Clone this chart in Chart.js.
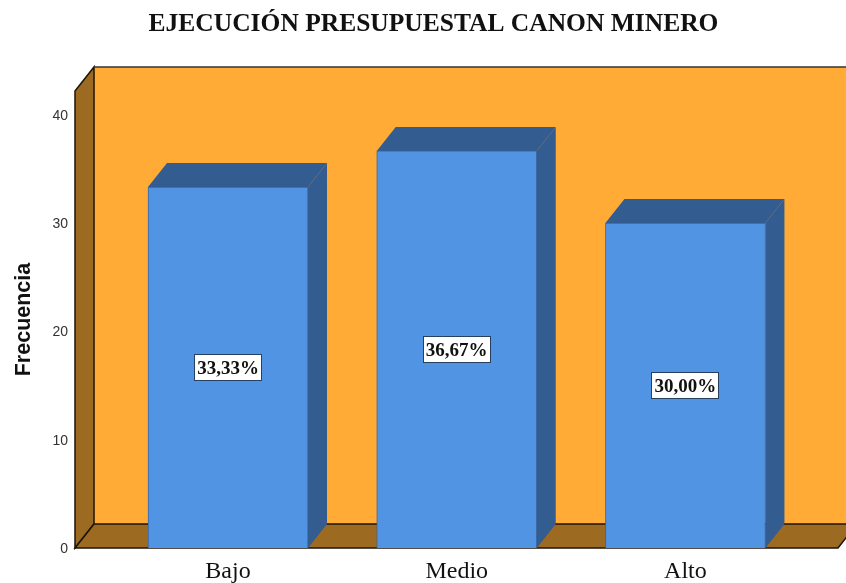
<!DOCTYPE html>
<html><head><meta charset="utf-8">
<style>html,body{margin:0;padding:0;background:#fff}#w{width:846px;height:583px}</style>
<script src="https://cdn.jsdelivr.net/npm/chart.js@4"></script></head>
<body><div id="w"><canvas id="c" width="846" height="583"></canvas></div>
<script>
const categories = ["Bajo", "Medio", "Alto"];
const percentValues = [33.33, 36.67, 30.00];
const percentLabels = ["33,33%", "36,67%", "30,00%"];
const yTicks = [0, 10, 20, 30, 40];
const DX = 19, DY = 24;

const poly = (ctx, pts, fill, stroke, lw) => {
  ctx.beginPath();
  pts.forEach((p, i) => i ? ctx.lineTo(p[0], p[1]) : ctx.moveTo(p[0], p[1]));
  ctx.closePath();
  if (fill) { ctx.fillStyle = fill; ctx.fill(); }
  if (stroke) { ctx.strokeStyle = stroke; ctx.lineWidth = lw || 1; ctx.stroke(); }
};

const box3d = {
  id: 'box3d',
  beforeDatasetsDraw(chart) {
    const { ctx, chartArea: a } = chart;
    ctx.save();
    const L = a.left, R = a.right, T = a.top, B = a.bottom, K = '#1c1408';
    poly(ctx, [[L + DX, T - DY], [R + DX, T - DY], [R + DX, B - DY], [L + DX, B - DY]], '#FFAB36', null);
    poly(ctx, [[L, T], [L + DX, T - DY], [L + DX, B - DY], [L, B]], '#9C6A20', K, 1.5);
    poly(ctx, [[L, B], [L + DX, B - DY], [R + DX, B - DY], [R, B]], '#9C6A20', K, 1.5);
    ctx.strokeStyle = '#333'; ctx.lineWidth = 1.5;
    ctx.beginPath(); ctx.moveTo(L + DX, T - DY); ctx.lineTo(R + DX, T - DY); ctx.stroke();
    const meta = chart.getDatasetMeta(0);
    meta.data.forEach(b => {
      const l = b.x - b.width / 2, r = b.x + b.width / 2;
      poly(ctx, [[r, b.y], [r + DX, b.y - DY], [r + DX, b.base - DY], [r, b.base]], '#335C91', null);
      poly(ctx, [[l, b.y], [l + DX, b.y - DY], [r + DX, b.y - DY], [r, b.y]], '#335C91', null);
    });
    ctx.restore();
  },
  afterDatasetsDraw(chart) {
    const { ctx } = chart;
    const meta = chart.getDatasetMeta(0);
    ctx.save();
    ctx.font = 'bold 19px "Liberation Serif"';
    ctx.textAlign = 'center'; ctx.textBaseline = 'middle';
    meta.data.forEach((b, i) => {
      const cy = (b.y + b.base) / 2;
      const w = 68, h = 27;
      const x0 = Math.round(b.x - w / 2), y0 = Math.round(cy - h / 2);
      ctx.fillStyle = '#fff'; ctx.strokeStyle = '#26405f'; ctx.lineWidth = 1;
      ctx.fillRect(x0, y0, w, h);
      ctx.strokeRect(x0 + .5, y0 + .5, w - 1, h - 1);
      ctx.fillStyle = '#111';
      ctx.fillText(percentLabels[i], b.x, cy + 2);
    });
    ctx.restore();
  }
};

new Chart(document.getElementById('c'), {
  type: 'bar',
  plugins: [box3d],
  data: {
    datasets: [{
      data: percentValues.map((v, i) => ({ x: i, y: v })),
      backgroundColor: '#5294E4',
      borderColor: '#3A659E',
      borderWidth: 1,
      barThickness: 160
    }]
  },
  options: {
    responsive: false,
    animation: false,
    layout: { padding: { left: 29, right: 8, top: 0, bottom: 0 } },
    plugins: {
      legend: { display: false },
      tooltip: { enabled: false },
      title: {
        display: true,
        text: 'EJECUCIÓN PRESUPUESTAL CANON MINERO',
        color: '#111',
        font: { family: '"Liberation Serif"', size: 25.5, weight: 'bold' },
        padding: { top: 9, bottom: 51.4 }
      }
    },
    scales: {
      x: {
        type: 'linear',
        min: -0.669, max: 2.667,
        offset: false,
        afterBuildTicks(s) { s.ticks = categories.map((_, i) => ({ value: i })); },
        afterFit(s) { s.height = 35; },
        grid: { display: false, drawTicks: false },
        border: { display: false },
        ticks: {
          autoSkip: false, maxRotation: 0, padding: 9, color: '#111',
          font: { family: '"Liberation Serif"', size: 24 },
          callback: v => categories[v]
        }
      },
      y: {
        min: 0, max: 42.2,
        afterBuildTicks(s) { s.ticks = yTicks.map(v => ({ value: v })); },
        afterFit(s) { s.width = 46; },
        grid: { display: false, drawTicks: false },
        border: { display: false },
        ticks: { padding: 7, labelOffset: 1, color: '#333', font: { family: '"Liberation Sans"', size: 14 } },
        title: {
          display: true, text: 'Frecuencia', color: '#111',
          font: { family: '"Liberation Sans"', size: 21.5, weight: 'bold' },
          padding: { top: -18, bottom: 0 }
        }
      }
    }
  }
});
</script></body></html>
